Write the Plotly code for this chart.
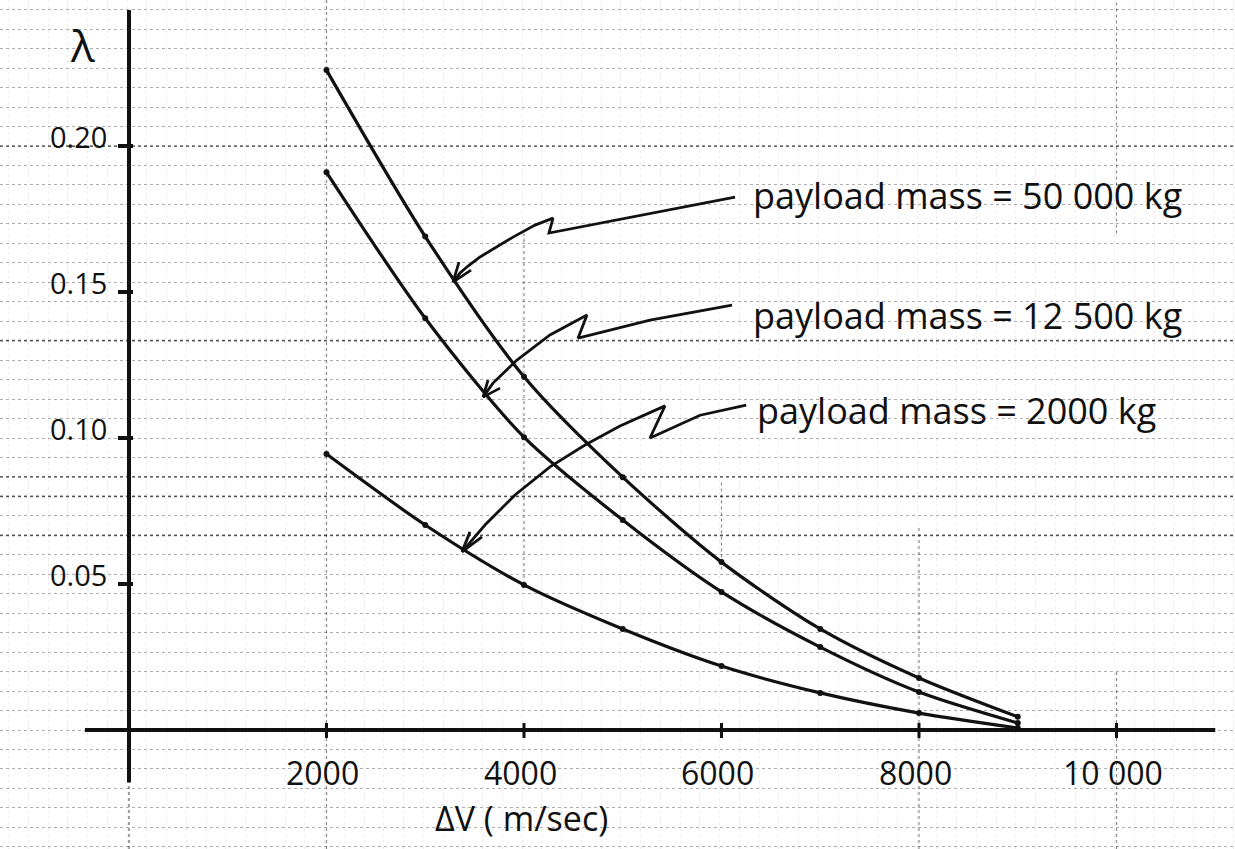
import numpy as np
import plotly.graph_objects as go

# ΔV (m/sec) at which λ was evaluated
delta_v = [2000, 3000, 4000, 5000, 6000, 7000, 8000, 9000]

# λ for each payload mass
lam_50000 = [0.226, 0.169, 0.121, 0.0866, 0.0575, 0.0346, 0.0178, 0.0045]
lam_12500 = [0.191, 0.141, 0.1003, 0.0719, 0.0473, 0.0284, 0.0130, 0.0024]
lam_2000 = [0.0945, 0.0702, 0.0497, 0.0346, 0.0219, 0.0127, 0.0058, 0.0007]

series_labels = [
    "payload mass = 50 000 kg",
    "payload mass = 12 500 kg",
    "payload mass = 2000 kg",
]

x_tick_vals = [2000, 4000, 6000, 8000, 10000]
x_tick_text = ["2000", "4000", "6000", "8000", "10 000"]
y_tick_vals = [0.05, 0.10, 0.15, 0.20]
y_tick_text = ["0.05", "0.10", "0.15", "0.20"]

# ---------------------------------------------------------------- layout
W, H = 1235, 849
X_RANGE = [-1306.3, 11200.0]
Y_RANGE = [-0.04075, 0.25]
SX = W / (X_RANGE[1] - X_RANGE[0])   # pixels per m/sec
SY = H / (Y_RANGE[1] - Y_RANGE[0])   # pixels per unit λ
INK = "#111111"
FONT = "Open Sans"


def shift(x, y, dx_px, dy_px):
    """Move a data point by a screen offset (pixels, y downwards)."""
    return x + dx_px / SX, y - dy_px / SY


fig = go.Figure()

# ---------------------------------------------------------------- curves
for lam in (lam_50000, lam_12500, lam_2000):
    fig.add_trace(go.Scatter(
        x=delta_v, y=lam, mode="lines+markers",
        line=dict(color=INK, width=3.2, shape="spline", smoothing=0.8),
        marker=dict(color=INK, size=6),
        hoverinfo="skip", showlegend=False,
    ))

# ---------------------------------------------------------------- callout arrows
# (path from the label to just before the head, head position on the curve,
#  barb offsets in pixels relative to the head)
arrows = [
    dict(path=[(6137, 0.1825), (4253, 0.1702), (4294, 0.1753), (4112, 0.1729),
               (3889, 0.1688), (3706, 0.1651), (3555, 0.1620), (3433, 0.1589),
               (3352, 0.1565)],
         tip=(3281, 0.1534), barbs=[(6, -20), (18, -12)]),
    dict(path=[(6107, 0.1455), (5276, 0.1404), (4547, 0.1342), (4638, 0.1421),
               (4263, 0.1353), (3929, 0.1267), (3686, 0.1188)],
         tip=(3585, 0.1140), barbs=[(5, -17), (17, -9)]),
    dict(path=[(6250, 0.1113), (5783, 0.1078), (5276, 0.1000), (5428, 0.1110),
               (4972, 0.1041), (4618, 0.0976), (4263, 0.0901), (3909, 0.0805),
               (3605, 0.0702)],
         tip=(3372, 0.0610), barbs=[(8, -20), (20, -15)]),
]

for a in arrows:
    xs = [p[0] for p in a["path"]] + [a["tip"][0]]
    ys = [p[1] for p in a["path"]] + [a["tip"][1]]
    fig.add_trace(go.Scatter(
        x=xs, y=ys, mode="lines",
        line=dict(color=INK, width=2.8),
        hoverinfo="skip", showlegend=False,
    ))
    tx, ty = a["tip"]
    bx, by = [], []
    for dx, dy in a["barbs"]:
        px_, py_ = shift(tx, ty, dx, dy)
        bx += [tx, px_, None]
        by += [ty, py_, None]
    fig.add_trace(go.Scatter(
        x=bx, y=by, mode="lines",
        line=dict(color=INK, width=2.8),
        hoverinfo="skip", showlegend=False,
    ))

# ---------------------------------------------------------------- series labels
label_pos = [(6299, 0.1830), (6299, 0.1418), (6340, 0.1094)]
annotations = []
for text, (lx, ly) in zip(series_labels, label_pos):
    annotations.append(dict(
        x=lx, y=ly, text=text, showarrow=False,
        xanchor="left", yanchor="middle",
        font=dict(family=FONT, size=36, color=INK),
    ))

# ---------------------------------------------------------------- axes (drawn)
shapes = []
# graph-paper emphasis lines
for k in (10, 12, 13, 20, 30):
    shapes.append(dict(type="line", xref="paper", x0=0, x1=1, yref="y",
                       y0=k / 150, y1=k / 150,
                       line=dict(color="rgba(0,0,0,0.55)", width=1.6, dash="dot"),
                       layer="below"))
# vertical graph-paper lines
for vx, y0, y1 in [(2000, Y_RANGE[0], Y_RANGE[1]), (4000, 0.05, 0.17),
                   (6000, 0.055, 0.085), (8000, Y_RANGE[0], 0.07),
                   (10000, Y_RANGE[0], 0.02), (10000, 0.17, Y_RANGE[1])]:
    shapes.append(dict(type="line", xref="x", yref="y", x0=vx, x1=vx, y0=y0, y1=y1,
                       line=dict(color="rgba(0,0,0,0.45)", width=1.2, dash="dot"),
                       layer="below"))

# horizontal axis
shapes.append(dict(type="line", xref="x", yref="y", x0=-446, x1=11000, y0=0, y1=0,
                   line=dict(color=INK, width=4)))
# vertical axis
shapes.append(dict(type="line", xref="x", yref="y", x0=0, x1=0, y0=-0.018, y1=0.2466,
                   line=dict(color=INK, width=4)))
shapes.append(dict(type="line", xref="x", yref="y", x0=0, x1=0, y0=Y_RANGE[0], y1=-0.018,
                   line=dict(color="rgba(0,0,0,0.5)", width=1.5, dash="dot")))
# tick marks
for v in x_tick_vals:
    shapes.append(dict(type="line", xref="x", yref="y", x0=v, x1=v,
                       y0=-8 / SY, y1=7 / SY, line=dict(color=INK, width=3)))
for v in y_tick_vals:
    shapes.append(dict(type="line", xref="x", yref="y", x0=-11 / SX, x1=4 / SX,
                       y0=v, y1=v, line=dict(color=INK, width=4)))

# tick labels
for v, t in zip(x_tick_vals, x_tick_text):
    annotations.append(dict(x=v, y=-42 / SY, xshift=-4, text=t, showarrow=False,
                            xanchor="center", yanchor="middle",
                            font=dict(family=FONT, size=32, color=INK)))
for v, t in zip(y_tick_vals, y_tick_text):
    annotations.append(dict(x=-20 / SX, y=v, yshift=10, text=t, showarrow=False,
                            xanchor="right", yanchor="middle",
                            font=dict(family=FONT, size=29, color=INK)))

# axis titles
annotations.append(dict(x=-47 / SX, y=0.2346, text="λ", showarrow=False,
                        xanchor="center", yanchor="middle",
                        font=dict(family=FONT, size=44, color=INK)))
annotations.append(dict(x=3970, y=-88 / SY, text="ΔV ( m/sec)", showarrow=False,
                        xanchor="center", yanchor="middle",
                        font=dict(family=FONT, size=34, color=INK)))

fig.update_layout(
    width=W, height=H,
    margin=dict(l=0, r=0, t=0, b=0),
    paper_bgcolor="white", plot_bgcolor="white",
    showlegend=False,
    xaxis=dict(range=X_RANGE, showgrid=True, dtick=200, tick0=-20,
               gridcolor="rgba(0,0,0,0.07)", griddash="dot", gridwidth=1,
               zeroline=False, showticklabels=False, ticks="", fixedrange=True),
    yaxis=dict(range=Y_RANGE, showgrid=True, dtick=1 / 150, tick0=0,
               gridcolor="rgba(0,0,0,0.32)", griddash="dot", gridwidth=1,
               zeroline=False, showticklabels=False, ticks="", fixedrange=True),
    shapes=shapes,
    annotations=annotations,
)

fig.write_html("out.html", config={"displayModeBar": False})
